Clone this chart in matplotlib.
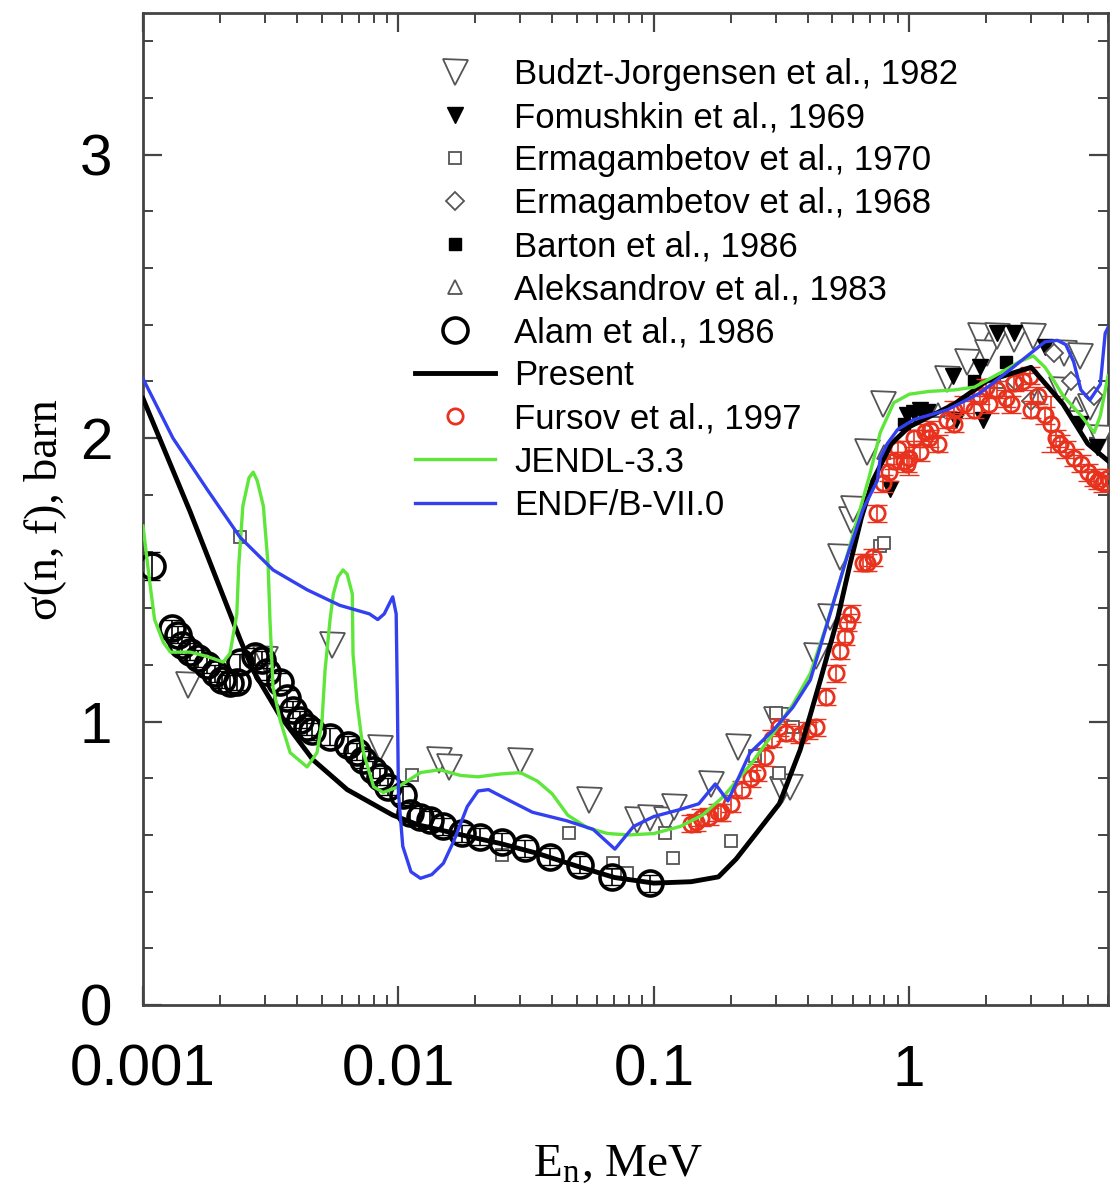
import numpy as np
import matplotlib.pyplot as plt
import matplotlib as mpl
from matplotlib.ticker import FixedLocator, FixedFormatter, MultipleLocator, NullFormatter

mpl.rcParams["font.family"] = "Liberation Sans"
mpl.rcParams["mathtext.fontset"] = "stix"

# ---- data (E in MeV, sigma in barn) ----
present_E = [0.001, 0.00153, 0.0024, 0.0027, 0.00344, 0.00463, 0.0063, 0.0095, 0.012, 0.0177, 0.025,
             0.035, 0.05, 0.07, 0.1, 0.14, 0.179, 0.21, 0.254, 0.31, 0.374, 0.449, 0.523, 0.588, 0.65,
             0.72, 0.85, 1.0, 1.5, 2.0, 3.0, 4.0, 5.0, 6.0]
present_s = [2.14, 1.74, 1.29, 1.18, 1.02, 0.865, 0.76, 0.67, 0.635, 0.60, 0.57,
             0.535, 0.49, 0.45, 0.43, 0.435, 0.452, 0.515, 0.61, 0.71, 0.90, 1.147, 1.36, 1.56, 1.72,
             1.85, 1.98, 2.04, 2.12, 2.20, 2.25, 2.12, 1.98, 1.92]

jendl_E = [0.001, 0.00106, 0.00111, 0.0012, 0.00128, 0.00153, 0.00178, 0.00206, 0.00219, 0.00225,
           0.00233, 0.00237, 0.00246, 0.0026, 0.0027, 0.0028, 0.00296, 0.00309, 0.00314, 0.00323,
           0.00344, 0.00377, 0.00439, 0.0048, 0.00502, 0.00516, 0.0054, 0.00556, 0.0058, 0.00607,
           0.0063, 0.0066, 0.00664, 0.00689, 0.0073, 0.008, 0.00872, 0.01, 0.0122, 0.0145, 0.0175,
           0.0205, 0.025, 0.03, 0.035, 0.04, 0.046, 0.055, 0.066, 0.08, 0.1, 0.127, 0.155, 0.187, 0.24,
           0.294, 0.35, 0.41, 0.47, 0.537, 0.62, 0.70, 0.77, 0.87, 1.0, 1.2, 1.5, 1.8, 2.27, 2.7, 3.06,
           3.4, 3.7, 4.0, 4.7, 5.3, 5.6, 6.0]
jendl_s = [1.69, 1.50, 1.36, 1.28, 1.245, 1.245, 1.23, 1.21, 1.24, 1.30,
           1.38, 1.55, 1.76, 1.86, 1.88, 1.85, 1.76, 1.55, 1.36, 1.12,
           1.006, 0.89, 0.84, 0.89, 1.0, 1.18, 1.36, 1.45, 1.51, 1.535,
           1.52, 1.45, 1.24, 1.066, 0.89, 0.77, 0.75, 0.77, 0.82, 0.83, 0.81,
           0.805, 0.815, 0.82, 0.79, 0.745, 0.67, 0.625, 0.605, 0.60, 0.605, 0.63, 0.67, 0.735, 0.85,
           0.96, 1.06, 1.17, 1.33, 1.50, 1.70, 1.87, 2.02, 2.125, 2.155, 2.165, 2.17, 2.18, 2.23, 2.27,
           2.29, 2.25, 2.20, 2.15, 2.08, 2.02, 2.08, 2.22]

endf_E = [0.001, 0.00131, 0.00178, 0.0024, 0.00323, 0.00439, 0.0059, 0.0077, 0.0083, 0.0088, 0.0095,
          0.0098, 0.0099, 0.01, 0.0104, 0.0112, 0.0122, 0.0135, 0.015, 0.0165, 0.0186, 0.0205,
          0.0225, 0.0274, 0.0335, 0.0456, 0.0578, 0.0704, 0.0833, 0.1, 0.127, 0.15, 0.174, 0.195,
          0.238, 0.294, 0.35, 0.41, 0.49, 0.57, 0.66, 0.75, 0.77, 0.82, 0.90, 1.04, 1.41, 1.90, 2.55,
          3.4, 3.8, 4.1, 4.4, 4.7, 5.1, 5.6, 5.85, 6.0]
endf_s = [2.21, 2.00, 1.82, 1.65, 1.535, 1.465, 1.41, 1.38, 1.36, 1.38, 1.44,
          1.38, 1.10, 0.75, 0.56, 0.47, 0.447, 0.46, 0.50, 0.58, 0.70, 0.755,
          0.76, 0.72, 0.68, 0.65, 0.62, 0.55, 0.63, 0.665, 0.69, 0.71, 0.78, 0.72,
          0.89, 0.97, 1.05, 1.147, 1.38, 1.58, 1.75, 1.85, 1.93, 1.98, 2.03, 2.065, 2.10, 2.16, 2.25,
          2.34, 2.345, 2.33, 2.27, 2.17, 2.135, 2.19, 2.37, 2.39]

alam_E = [0.00108, 0.001295, 0.001374, 0.001418, 0.001528, 0.001647, 0.001776, 0.001915, 0.002033,
          0.002192, 0.002328, 0.0024, 0.002746, 0.002917, 0.003052, 0.003441, 0.003655, 0.003881,
          0.004121, 0.004376, 0.004575, 0.0054, 0.00637, 0.00687, 0.00729, 0.00798, 0.00848, 0.00914,
          0.01046, 0.0111, 0.01218, 0.0133, 0.015, 0.0177, 0.0209, 0.0254, 0.0313, 0.0393, 0.0515,
          0.0685, 0.0968]
alam_s = [1.55, 1.33, 1.306, 1.27, 1.247, 1.224, 1.20, 1.17, 1.147,
          1.135, 1.14, 1.21, 1.23, 1.218, 1.176, 1.14, 1.083, 1.041,
          1.006, 0.982, 0.965, 0.947, 0.918, 0.894, 0.865, 0.83, 0.806, 0.77,
          0.741, 0.677, 0.665, 0.653, 0.63, 0.606, 0.594, 0.576, 0.553, 0.523, 0.494,
          0.453, 0.43]
alam_err = [0.05] + [0.03] * 40

budzt_E = [0.0015, 0.003, 0.0055, 0.0085, 0.0144, 0.0158, 0.030, 0.0556, 0.0858, 0.097, 0.112, 0.12,
           0.168, 0.214, 0.30, 0.318, 0.34, 0.433, 0.49, 0.537, 0.589, 0.60, 0.686, 0.79, 1.41, 1.69,
           1.90, 2.02, 2.21, 2.56, 3.06, 3.92, 4.02, 4.67, 5.1, 5.6]
budzt_s = [1.13, 1.22, 1.27, 0.906, 0.865, 0.84, 0.86, 0.724, 0.653, 0.66, 0.653, 0.70,
           0.78, 0.91, 1.005, 0.76, 0.77, 1.23, 1.37, 1.58, 1.71, 1.75, 1.95, 2.12, 2.21, 2.27,
           2.36, 2.30, 2.36, 2.35, 2.36, 2.17, 2.30, 2.29, 2.11, 2.00]

fomushkin_E = [0.843, 0.98, 1.04, 1.1, 1.49, 1.52, 1.90, 1.95, 2.21, 2.56, 3.4, 4.67, 5.45]
fomushkin_s = [1.82, 2.08, 2.09, 2.10, 2.22, 2.065, 2.25, 2.065, 2.37, 2.37, 2.32, 2.05, 1.97]

erm70_E = [0.0024, 0.01128, 0.0254, 0.0464, 0.0695, 0.0784, 0.111, 0.119, 0.2, 0.25, 0.30, 0.31, 0.35, 0.77, 0.80]
erm70_s = [1.65, 0.81, 0.53, 0.607, 0.50, 0.465, 0.607, 0.52, 0.58, 0.88, 1.03, 0.82, 0.98, 1.62, 1.63]

erm68_E = [2.6, 3.0, 3.7, 4.3, 5.3]
erm68_s = [2.20, 2.13, 2.30, 2.20, 2.15]

barton_E = [0.95, 1.2, 1.8, 2.4]
barton_s = [2.05, 2.10, 2.20, 2.27]

aleks_E = [0.8, 1.3, 2.2, 3.2, 4.5]
aleks_s = [1.95, 2.10, 2.20, 2.15, 2.12]

fursov_E = [0.14, 0.146, 0.153, 0.165, 0.179, 0.184, 0.20, 0.222, 0.24, 0.254, 0.273, 0.29, 0.31, 0.33,
            0.372, 0.40, 0.433, 0.473, 0.518, 0.537, 0.56, 0.573, 0.589, 0.66, 0.686, 0.72, 0.75, 0.79,
            0.83, 0.87, 0.90, 0.95, 0.98, 1.0, 1.04, 1.1, 1.15, 1.2, 1.21, 1.3, 1.41, 1.5, 1.5, 1.64,
            1.8, 1.90, 2.0, 2.05, 2.21, 2.4, 2.5, 2.56, 2.8, 2.97, 3.0, 3.2, 3.4, 3.6, 3.75, 3.9, 4.1,
            4.4, 4.7, 5.0, 5.3, 5.5, 5.75, 6.0]
fursov_s = [0.64, 0.645, 0.66, 0.665, 0.68, 0.68, 0.71, 0.76, 0.80, 0.82, 0.875, 0.94, 0.98, 0.96,
            0.953, 0.97, 0.98, 1.087, 1.17, 1.25, 1.30, 1.348, 1.38, 1.56, 1.56, 1.58, 1.735, 1.84,
            1.88, 1.92, 1.96, 1.92, 1.91, 1.93, 2.0, 1.95, 2.02, 2.0, 2.03, 1.98, 2.065, 2.05, 2.10, 2.12,
            2.10, 2.15, 2.18, 2.12, 2.17, 2.14, 2.12, 2.195, 2.20, 2.22, 2.10, 2.15, 2.08, 2.05, 2.0, 1.98, 1.96,
            1.93, 1.91, 1.88, 1.86, 1.85, 1.84, 1.86]
fursov_err = [0.03] * len(fursov_E)
fursov_err[fursov_E.index(3.6)] = 0.1
fursov_err[fursov_E.index(1.0)] = 0.06

gray = "#555555"
green = "#5fe63a"
blue = "#3340f0"
red = "#e8321e"

fig = plt.figure(figsize=(11.1, 12.03), dpi=100)
ax = fig.add_axes([143 / 1110, (1203 - 1005) / 1203, (1108 - 143) / 1110, (1005 - 13) / 1203])

h_budzt, = ax.plot(budzt_E, budzt_s, "v", ms=18, mfc="white", mec=gray, mew=1.3, zorder=3,
                   label="Budzt-Jorgensen et al., 1982")
h_fom, = ax.plot(fomushkin_E, fomushkin_s, "v", ms=12, color="black", zorder=3,
                 label="Fomushkin et al., 1969")
h_e70, = ax.plot(erm70_E, erm70_s, "s", ms=9, mfc="white", mec=gray, mew=1.3, zorder=3,
                 label="Ermagambetov et al., 1970")
h_e68, = ax.plot(erm68_E, erm68_s, "D", ms=9, mfc="white", mec=gray, mew=1.3, zorder=3,
                 label="Ermagambetov et al., 1968")
h_bar, = ax.plot(barton_E, barton_s, "s", ms=9, color="black", zorder=3,
                 label="Barton et al., 1986")
h_ale, = ax.plot(aleks_E, aleks_s, "^", ms=10, mfc="white", mec=gray, mew=1.3, zorder=3,
                 label="Aleksandrov et al., 1983")
ax.errorbar(alam_E, alam_s, yerr=alam_err, fmt="none", ecolor="black", elinewidth=1.2, capsize=6, zorder=4)
h_alam, = ax.plot(alam_E, alam_s, "o", ms=18, mfc="none", mec="black", mew=2.6, zorder=4,
                  label="Alam et al., 1986")
h_pres, = ax.plot(present_E, present_s, "-", color="black", lw=3.5, zorder=5, label="Present")
ax.errorbar(fursov_E, fursov_s, yerr=fursov_err, fmt="none", ecolor=red, elinewidth=1.2, capsize=7, zorder=4)
h_fur, = ax.plot(fursov_E, fursov_s, "o", ms=11, mfc="none", mec=red, mew=2.0, zorder=4,
                 label="Fursov et al., 1997")
h_jen, = ax.plot(jendl_E, jendl_s, "-", color=green, lw=2.4, zorder=6, label="JENDL-3.3")
h_endf, = ax.plot(endf_E, endf_s, "-", color=blue, lw=2.4, zorder=6, label="ENDF/B-VII.0")

ax.set_xscale("log")
ax.set_xlim(0.001, 6.0)
ax.set_ylim(0, 3.5)

ax.xaxis.set_major_locator(FixedLocator([0.001, 0.01, 0.1, 1]))
ax.xaxis.set_major_formatter(FixedFormatter(["0.001", "0.01", "0.1", "1"]))
ax.xaxis.set_minor_formatter(NullFormatter())
ax.yaxis.set_major_locator(FixedLocator([0, 1, 2, 3]))
ax.yaxis.set_major_formatter(FixedFormatter(["0", "1", "2", "3"]))
ax.yaxis.set_minor_locator(MultipleLocator(0.2))

ax.tick_params(which="both", direction="in", top=True, right=True, colors="#444444",
               labelcolor="black", labelsize=42)
ax.tick_params(which="major", length=14, width=1.6)
ax.tick_params(which="minor", length=7, width=1.4)
ax.tick_params(axis="x", which="major", pad=28)
ax.tick_params(axis="y", which="major", pad=22)
for sp in ax.spines.values():
    sp.set_linewidth(2.0)
    sp.set_color("#444444")

fig.text(618 / 1110, 1 - 1165 / 1203, r"E$_\mathregular{n}$, MeV", family="Liberation Serif",
         fontsize=34, ha="center", va="center")
fig.text(45 / 1110, 1 - 510 / 1203, "σ(n, f), barn", family="Liberation Serif",
         fontsize=33, ha="center", va="center", rotation=90)

handles = [h_budzt, h_fom, h_e70, h_e68, h_bar, h_ale, h_alam, h_pres, h_fur, h_jen, h_endf]
ax.legend(handles=handles, loc="upper left", bbox_to_anchor=((415 - 143) / 965, (1005 - 58) / 992),
          frameon=False, fontsize=25, handlelength=2.3, handletextpad=0.55, labelspacing=0.29,
          borderpad=0, borderaxespad=0, numpoints=1)

fig.savefig("out.png", dpi=100)
